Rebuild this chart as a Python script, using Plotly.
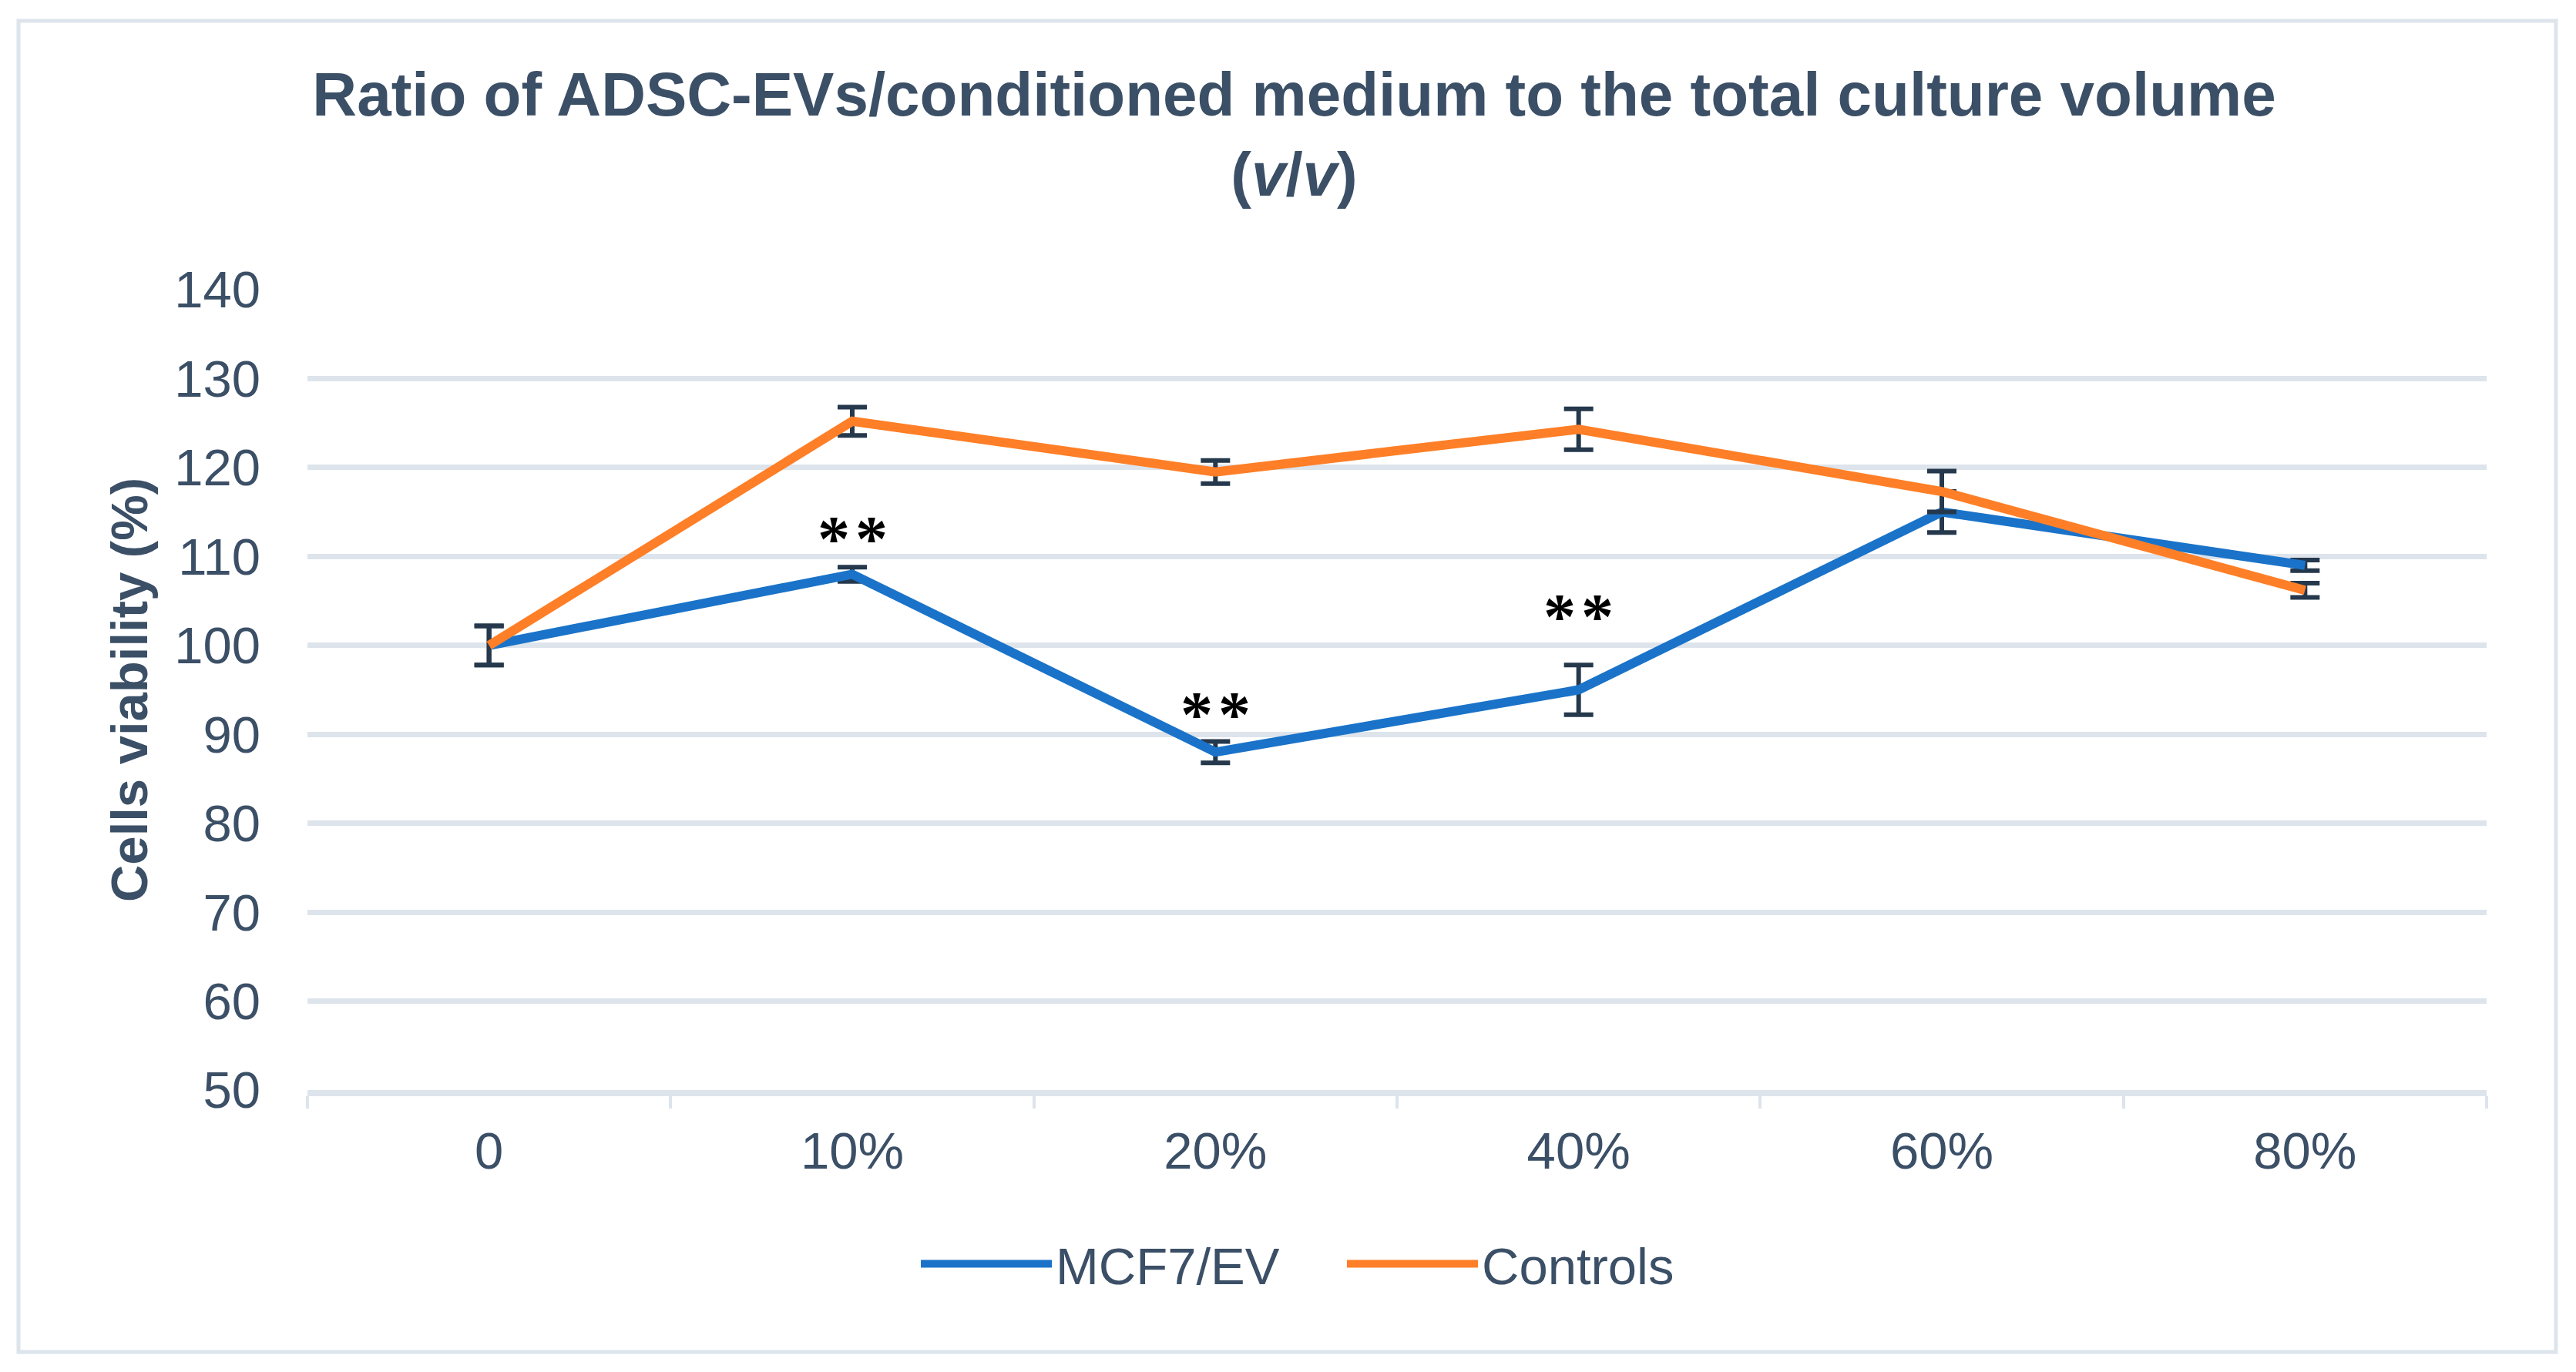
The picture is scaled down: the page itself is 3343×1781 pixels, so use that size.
import plotly.graph_objects as go

categories = ["0", "10%", "20%", "40%", "60%", "80%"]
mcf7_ev = [100.0, 108.0, 88.0, 95.0, 115.0, 109.0]
mcf7_ev_err = [2.2, 0.8, 1.2, 2.8, 2.3, 0.6]
controls = [100.0, 125.2, 119.5, 124.3, 117.3, 106.2]
controls_err = [2.2, 1.6, 1.3, 2.3, 2.3, 0.8]
star_cats = ["10%", "20%", "40%"]
star_y = [112.0, 92.2, 103.2]
y_ticks = [50, 60, 70, 80, 90, 100, 110, 120, 130, 140]

TXT = "#3b4f66"
GRID = "#dde4ec"
ERR = "#25384c"
FONT = "Liberation Sans, Arial, sans-serif"

W, H = 3343, 1781
OFF = 8  # browser default body margin
# plot area in reference pixels
PL, PR, PT, PB = 399, 3227, 376, 1415
pw = PR - PL
ph = PB - PT
L = PL - OFF
T = PT - OFF
R = W - L - pw
B = H - T - ph

fig = go.Figure()
fig.add_trace(go.Scatter(
    x=categories, y=mcf7_ev, name="MCF7/EV", mode="lines",
    line=dict(color="#1a73c8", width=12),
    error_y=dict(type="data", array=mcf7_ev_err, visible=True,
                 color=ERR, thickness=6, width=19),
))
fig.add_trace(go.Scatter(
    x=categories, y=controls, name="Controls", mode="lines",
    line=dict(color="#fe7f27", width=12),
    error_y=dict(type="data", array=controls_err, visible=True,
                 color=ERR, thickness=6, width=19),
))

for c, yv in zip(star_cats, star_y):
    fig.add_annotation(x=c, y=yv, text="<b>*\u200a*</b>", showarrow=False,
                       font=dict(family="Liberation Serif, Times New Roman, serif",
                                 size=84, color="#000000"),
                       xanchor="center", yanchor="middle")

fig.add_shape(type="rect", xref="paper", yref="paper",
              x0=(24 - PL) / pw, x1=(3317 - PL) / pw,
              y0=(PB - 1755) / ph, y1=(PB - 27) / ph,
              line=dict(color=GRID, width=5), fillcolor="rgba(0,0,0,0)",
              layer="below")

fig.update_layout(
    width=W, height=H,
    margin=dict(l=L, r=R, t=T, b=B),
    paper_bgcolor="white", plot_bgcolor="white",
    font=dict(family=FONT, color=TXT, size=67),
    title=dict(
        text="<b>Ratio of ADSC-EVs/conditioned medium to the total culture volume<br>(<i>v</i>/<i>v</i>)</b>",
        x=0.5, xref="container", xanchor="center",
        y=1 - 142 / H, yref="container", yanchor="top",
        font=dict(family=FONT, size=80, color=TXT),
    ),
    showlegend=True,
    legend=dict(orientation="h", xref="container", x=0.519, xanchor="center",
                yref="container", y=1 - 1633 / H, yanchor="middle",
                font=dict(family=FONT, size=67, color=TXT),
                bgcolor="rgba(0,0,0,0)", itemwidth=170,
                entrywidth=368, entrywidthmode="pixels"),
)

fig.update_xaxes(
    type="category", categoryorder="array", categoryarray=categories,
    range=[-0.5, 5.5], tickson="boundaries", ticks="outside", ticklen=16,
    tickwidth=4, tickcolor=GRID, showgrid=False, showline=True,
    linecolor=GRID, linewidth=8, tickfont=dict(size=67, color=TXT),
    ticklabelstandoff=14, zeroline=False,
)
fig.update_yaxes(
    range=[50, 140], tickvals=y_ticks, showgrid=True, gridcolor=GRID,
    gridwidth=7, zeroline=False, showline=False, ticks="",
    tickfont=dict(size=67, color=TXT), ticklabelstandoff=60,
    title=dict(text="<b>Cells viability (%)</b>", standoff=12,
               font=dict(size=67, color=TXT)),
    automargin=True,
)

fig.write_html("out.html")
